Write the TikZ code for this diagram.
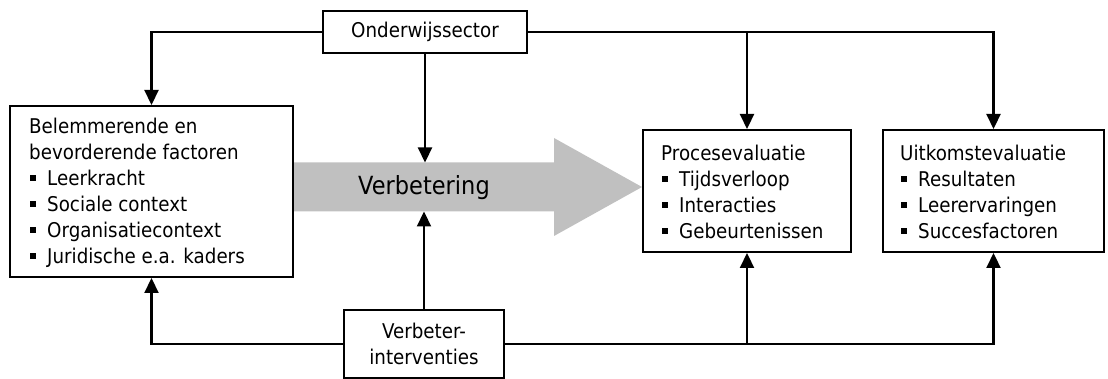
\documentclass[tikz,border=0pt]{standalone}
\usepackage{fontspec}
\setmainfont{DejaVu Sans}[FakeStretch=0.9]
\usetikzlibrary{arrows.meta}
\newcommand\bitem[1]{\makebox[18pt][l]{\hspace{1pt}\rule[5pt]{6pt}{6pt}}#1}
\newcommand\txtsize{\fontsize{20.3}{26}\selectfont}
\definecolor{arrowgray}{HTML}{C0C0C0}
\begin{document}
\begin{tikzpicture}[x=1pt,y=-1pt,
  box/.style={draw, line width=2pt, fill=white, inner sep=0pt},
  wire/.style={line width=2.2pt},
  conn/.style={wire, -{Triangle[width=14pt,length=15pt]}},
  txt/.style={font=\txtsize, inner sep=0pt, anchor=base west}]
\useasboundingbox (0,0) rectangle (1108,379);

% broad grey arrow
\fill[arrowgray] (292,162.5) -- (554,162.5) -- (554,138) -- (642,187)
  -- (554,236) -- (554,211.5) -- (292,211.5) -- cycle;
\node[font=\fontsize{25}{30}\selectfont, inner sep=0pt, anchor=base] (verb) at (424,195) {Verbetering};
\coordinate (vtop) at (425,162.5);
\coordinate (vbot) at (424,211.5);

% boxes
\node[box, minimum width=204pt, minimum height=42pt, font=\txtsize] (ond) at (425,32) {Onderwijssector};
\node[box, minimum width=283pt, minimum height=171pt] (fac) at (151.5,191.5) {};
\node[box, minimum width=208pt, minimum height=122pt] (pro) at (747,191) {};
\node[box, minimum width=221pt, minimum height=122pt] (out) at (993.5,191) {};
\node[box, minimum width=160pt, minimum height=68pt, font=\txtsize, align=center] (int) at (424,344) {Verbeter-\\interventies};

% box texts
\node[txt] (factxt) at (29,134) {\parbox[t]{260pt}{Belemmerende en\\bevorderende factoren\\
  \bitem{Leerkracht}\\\bitem{Sociale context}\\\bitem{Organisatiecontext}\\\bitem{Juridische e.a. kaders}}};
\node[txt] (protxt) at (661,161) {\parbox[t]{185pt}{Procesevaluatie\\
  \bitem{Tijdsverloop}\\\bitem{Interacties}\\\bitem{Gebeurtenissen}}};
\node[txt] (outtxt) at (900,161) {\parbox[t]{200pt}{Uitkomstevaluatie\\
  \bitem{Resultaten}\\\bitem{Leerervaringen}\\\bitem{Succesfactoren}}};

% connectors from the sector box
\draw[conn] (ond.west) -| (fac.north);
\draw[conn] (ond.south) -- (vtop);
\draw[conn] (ond.east) -| (out.north);
\draw[conn] (ond.east -| pro.north) -- (pro.north);

% connectors from the interventions box
\draw[conn] (int.west) -| (fac.south);
\draw[conn] (int.north) -- (vbot);
\draw[conn] (int.east) -| (out.south);
\draw[conn] (int.east -| pro.south) -- (pro.south);
\end{tikzpicture}
\end{document}
